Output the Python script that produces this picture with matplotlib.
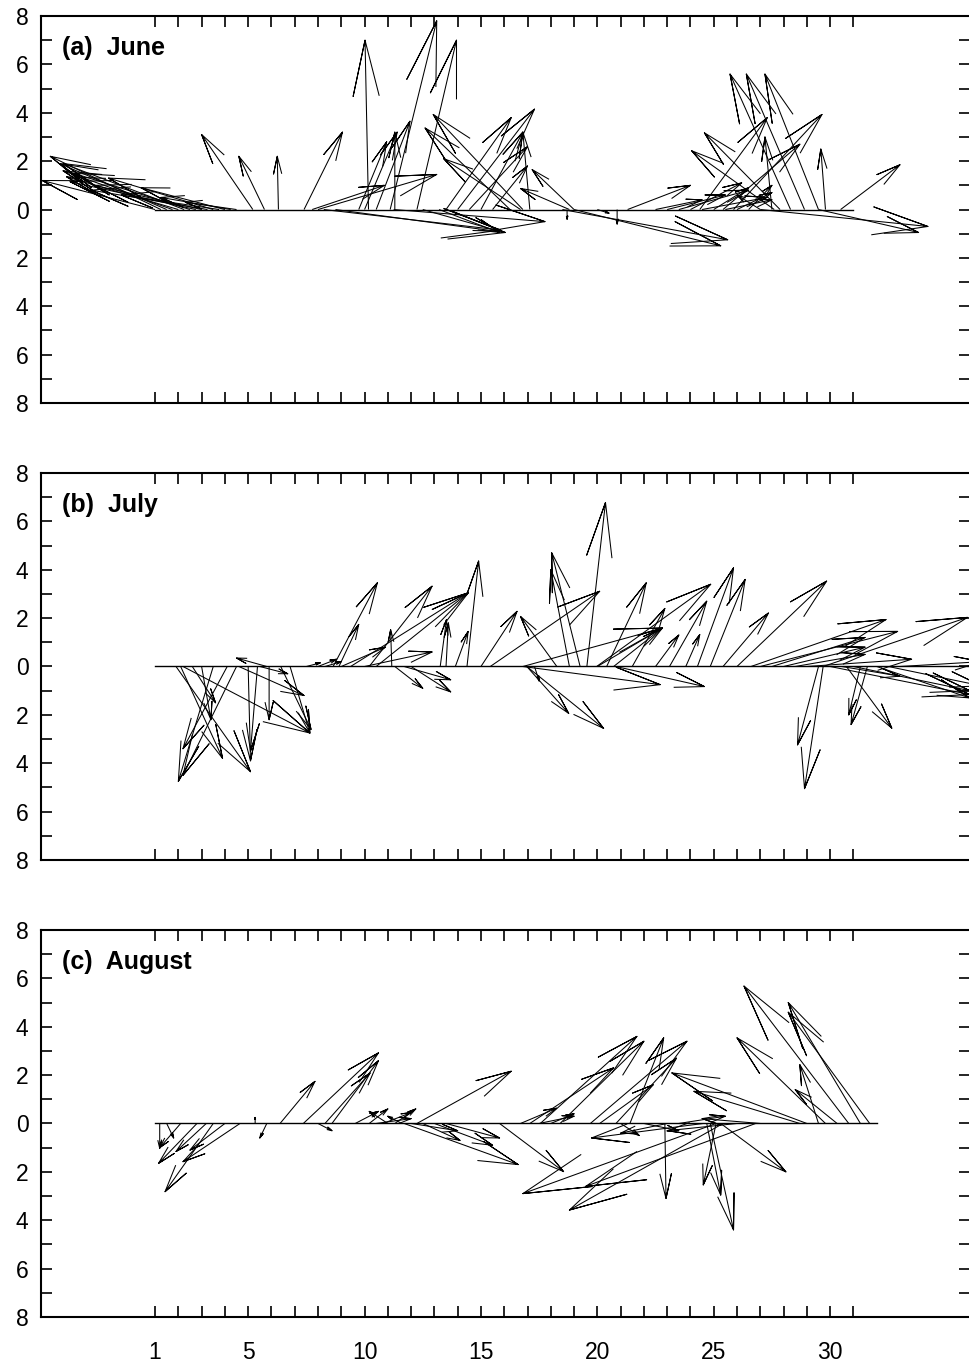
import numpy as np
import matplotlib
matplotlib.use("Agg")
import matplotlib.pyplot as plt
from matplotlib.collections import LineCollection
from matplotlib.ticker import FixedLocator, FuncFormatter

plt.rcParams['font.family'] = ['Liberation Sans', 'DejaVu Sans']

# ---- data: feather vectors (start day, u, v) ----
june_t = [1.0, 1.25, 1.5, 1.75, 2.0, 2.25, 2.5, 2.75, 3.0, 3.25, 3.5, 3.75, 4.0, 4.25, 4.5,
          5.2, 5.7, 6.3, 7.4, 7.75, 8.0, 8.25, 8.75, 9.75, 10.0, 10.17, 10.5, 11.1, 11.3,
          12.25, 12.5, 11.25, 13.2, 13.5, 14.0, 14.5, 15.0, 15.5, 16.25, 16.7, 16.8, 17.1,
          18.8, 19.0, 18.5, 19.0, 18.7, 20.85, 20.0, 21.3,
          22.5, 23.0, 23.5, 24.0, 24.5, 25.0, 25.5, 26.0, 26.5, 27.0, 24.4, 25.4, 25.85,
          27.5, 27.6, 27.85, 28.3, 28.9, 29.5, 29.8, 30.45, 27.0, 29.5]
june_u = [-4.85, -4.75, -4.6, -4.7, -4.8, -5.2, -5.0, -5.4, -4.6, -5.0, -4.5, -4.2, -3.6, -3.0, -2.2,
          -2.2, -1.1, -0.05, 1.65, 3.1, 5.1, 7.6, 7.3, 1.2, 1.4, -0.15, 1.45, 2.0, 0.0,
          1.7, 3.3, 6.5, 2.6, 2.8, 3.3, 2.5, 1.8, 1.5, -3.65, -3.3, -3.85, -0.3,
          -2.1, -1.8, 7.1, 6.3, 0.0, 0.0, 0.5, 2.7,
          2.0, 2.5, 3.0, 2.2, 2.8, 1.5, 2.0, 1.5, 1.0, -1.0, 2.9, 3.3, 3.8,
          -0.3, -3.55, -3.25, -2.6, -2.5, -2.3, -0.2, 2.55, 7.2, 4.3]
june_v = [1.2, 2.2, 1.9, 1.6, 1.35, 1.9, 1.5, 1.15, 1.0, 0.8, 1.3, 0.6, 0.9, 0.5, 0.3,
          3.1, 2.2, 2.2, 3.2, 1.0, 1.45, -0.85, -0.95, 2.8, 3.2, 7.0, 3.65, 7.8, 3.2,
          7.0, -0.9, -0.5, -0.95, 3.8, 4.15, 2.6, 3.2, 1.8, 3.37, 2.1, 3.93, 3.2,
          0.87, 1.65, -1.25, -1.5, -0.4, -0.6, -0.15, 1.0,
          0.4, 0.6, 0.8, 1.1, 0.5, 0.9, 0.4, 0.7, 1.0, 0.6, 3.8, 2.7, 3.93,
          3.0, 2.43, 3.17, 5.6, 5.6, 5.6, 2.5, 1.85, -0.7, -0.95]

july_t = [1.9, 2.1, 2.2, 2.6, 3.0, 3.5, 4.1, 4.5, 4.6, 5.0, 5.4, 5.5, 5.8, 5.9, 6.4, 6.8,
          7.5, 8.0, 8.3, 8.65, 8.9, 9.0, 9.4, 10.0, 10.2, 10.5, 11.17, 11.3, 11.7, 12.0,
          13.25, 13.5, 13.9, 14.4, 15.0, 15.4, 16.8, 16.8, 16.97, 16.97, 17.3,
          18.26, 18.8, 19.26, 19.55, 19.97, 20.0, 20.4, 20.7, 20.8, 21.5, 22.5, 23.1,
          23.8, 24.3, 24.85, 25.4, 26.0, 26.6, 27.0, 27.5, 28.0, 28.5, 29.0, 29.7,
          29.5, 29.7, 30.0, 30.5, 30.7, 31.0, 31.3, 31.6, 32.0, 32.5, 33.0]
july_u = [3.2, 1.8, 5.45, 1.0, 0.4, -1.5, -1.9, -2.3, 2.8, 0.1, -0.3, 1.2, -1.3, 0.0, 1.3, 0.85,
          0.6, 0.8, 0.7, 1.9, 0.85, 1.9, 5.06, 2.9, 2.7, 3.96, -0.05, 1.2, 2.0, 1.7,
          0.27, 0.1, 0.55, 0.5, 1.55, 4.7, 6.0, 5.9, 3.3, 1.8, 0.2,
          -1.56, -0.8, -1.22, 0.8, 4.9, 2.8, 1.7, 2.1, 3.8, 1.4, 1.0, 1.6,
          0.6, 1.55, 1.5, 1.95, 3.85, 5.8, 5.9, 4.0, 3.5, 3.0, 4.5, 6.2,
          -0.9, -0.8, 6.0, 2.5, 1.95, 5.0, -0.5, -0.7, 4.0, 4.0, 3.5]
july_v = [-4.35, -3.8, -2.75, -1.5, -2.2, -4.75, -3.4, -4.5, -1.2, -3.9, -3.5, -0.3, 0.35, -2.2, -2.6, -2.75,
          0.15, 0.3, 0.2, 3.46, 1.74, 0.8, 3.05, 0.6, 3.32, 3.05, 1.52, -0.9, -0.55, -1.05,
          1.94, 1.8, 1.45, 4.36, 2.28, 3.11, 1.59, -0.75, -2.56, -1.94, -0.6,
          2.07, 4.0, 4.7, 6.78, 3.4, 1.59, 3.46, 1.6, -0.83, 2.4, 1.3, 2.7,
          1.32, 4.08, 3.6, 2.21, 3.53, 1.94, 1.45, 1.2, 0.8, 0.5, 0.3, 2.03,
          -3.24, -5.05, -1.16, -0.4, -2.55, -1.0, -2.0, -2.4, -1.3, -0.8, 0.2]

aug_t = [1.2, 1.5, 2.1, 2.8, 3.2, 3.5, 4.0, 4.65, 5.3, 5.8, 6.37, 7.37, 8.0, 8.3, 8.6,
         9.6, 10.2, 10.5, 10.8, 11.0, 11.3, 11.6, 11.7, 12.0, 12.25, 12.5, 13.0, 13.5,
         15.8, 16.7, 17.1, 17.5, 17.55, 18.0, 18.4, 19.7, 20.1, 20.8, 21.0, 21.4,
         22.0, 22.9, 23.0, 23.5, 24.55, 24.7, 24.85, 25.1, 25.1, 25.3, 25.4, 26.0, 26.8,
         27.0, 28.7, 29.0, 29.5, 29.8, 30.3, 30.8, 31.3, 31.7]
aug_u = [0.0, 0.3, -0.9, -1.65, -1.3, -2.07, -1.5, -2.45, 0.0, -0.3, 1.5, 3.23, 0.6, 1.94, 2.0,
         1.0, 0.8, 1.5, 1.2, -0.8, 0.9, -0.6, 4.9, 2.0, 4.05, 1.6, 2.5, 2.3,
         2.75, 1.55, 3.6, 1.5, 4.15, 1.0, 3.6, 4.15, 2.3, 2.6, 0.8, 1.45,
         1.5, 0.05, -2.0, 2.0, -4.8, 0.6, 1.0, -8.3, -0.55, 2.8, -6.6, -3.0, -7.3,
         -2.5, -4.55, -5.8, -0.8, -3.8, -1.8, -4.5, -3.1, -3.5]
aug_v = [-1.03, -0.6, -1.0, -1.65, -1.16, -2.82, -1.1, -1.58, 0.25, -0.6, 1.74, 2.92, -0.3, 2.09, 2.6,
         0.5, 0.6, 0.2, 0.45, 0.5, 0.6, 0.3, -1.7, -0.3, 2.16, -0.7, -0.9, -0.6,
         -1.99, 0.63, 2.3, 0.3, 3.6, 0.4, 3.4, 3.4, 1.6, 2.7, -0.5, 3.54,
         -0.3, -3.1, -0.4, 0.3, -0.6, -2.96, -4.4, -2.9, -2.54, -2.0, -3.58, -0.3, -2.6,
         0.2, 1.33, 2.09, 2.43, 3.54, 1.4, 5.68, 5.0, 4.6]

base_start = [1.0, 1.0, 1.0]
base_end = [31.0, 36.5, 32.0]
titles = ["(a)  June", "(b)  July", "(c)  August"]
series = [(june_t, june_u, june_v), (july_t, july_u, july_v), (aug_t, aug_u, aug_v)]

day_ticks = list(range(1, 32))
day_labels = [1, 5, 10, 15, 20, 25, 30]


def feather(ax, t, u, v):
    # open arrowhead like a feather plot: head 1/3 of the vector, narrow barbs
    t = np.asarray(t, float)
    z = np.asarray(u, float) + 1j * np.asarray(v, float)
    shape = np.array([0, 1, 0.67 + 0.08j, 1, 0.67 - 0.08j])
    segs = []
    for tk, zk in zip(t, z):
        pts = tk + shape * zk
        segs.append(np.column_stack([pts.real, pts.imag]))
    ax.add_collection(LineCollection(segs, colors='black', linewidths=0.75))


fig = plt.figure(figsize=(9.69, 13.69), dpi=100)
rects = [[0.0423, 0.7056, 0.959, 0.2827],
         [0.0423, 0.3718, 0.959, 0.2827],
         [0.0423, 0.0380, 0.959, 0.2827]]

for i, (rect, (t, u, v)) in enumerate(zip(rects, series)):
    ax = fig.add_axes(rect)
    ax.plot([base_start[i], base_end[i]], [0, 0], color='black', lw=1.0)
    feather(ax, t, u, v)
    ax.set_xlim(-3.9, 36.02)
    ax.set_ylim(-8, 8)
    for sp in ax.spines.values():
        sp.set_linewidth(1.5)

    ax.yaxis.set_major_locator(FixedLocator(range(-8, 9, 2)))
    ax.yaxis.set_minor_locator(FixedLocator(range(-7, 8, 2)))
    ax.yaxis.set_major_formatter(FuncFormatter(lambda val, pos: f"{abs(val):g}"))
    ax.xaxis.set_major_locator(FixedLocator(day_labels))
    ax.xaxis.set_minor_locator(FixedLocator(day_ticks))
    if i == 2:
        ax.set_xticklabels([str(d) for d in day_labels])
    else:
        ax.set_xticklabels([])
    ax.tick_params(axis='both', which='both', direction='in', top=True, right=True,
                   length=8, width=1.2, labelsize=16.5)
    ax.tick_params(axis='y', pad=9)
    ax.tick_params(axis='x', pad=17)

    ax.text(0.023, 0.9, titles[i], transform=ax.transAxes, fontsize=18,
            fontweight='bold', va='baseline', ha='left')

fig.savefig("out.png", dpi=100)
